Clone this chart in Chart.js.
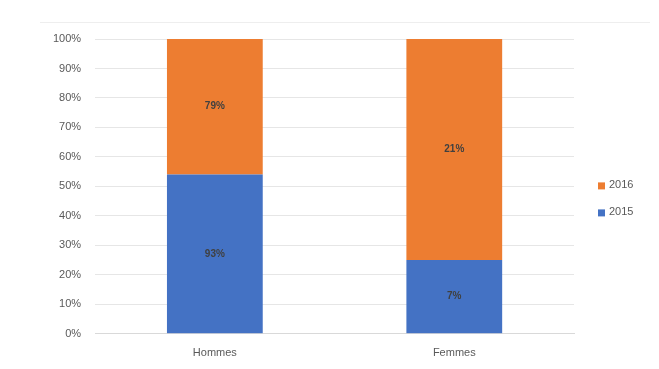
<!DOCTYPE html>
<html>
<head>
<meta charset="utf-8">
<script src="https://cdn.jsdelivr.net/npm/chart.js@4/dist/chart.umd.min.js"></script>
<style>
html,body{margin:0;padding:0;background:#fff;}
#wrap{width:659px;height:369px;position:relative;}
</style>
</head>
<body>
<div id="wrap"><canvas id="c" width="659" height="369"></canvas></div>
<script>
const categories = ["Hommes", "Femmes"];
const series2015 = [93, 7];
const series2016 = [79, 21];
const yTicks = [0, 10, 20, 30, 40, 50, 60, 70, 80, 90, 100];

const totals = categories.map((_, i) => series2015[i] + series2016[i]);
const pct = (arr) => arr.map((v, i) => v / totals[i] * 100);
const FONT = '"Liberation Sans", Arial, sans-serif';

const labelPlugin = {
  id: 'segLabels',
  afterDatasetsDraw(chart) {
    const ctx = chart.ctx;
    ctx.save();
    ctx.font = 'bold 10px ' + FONT;
    ctx.fillStyle = '#404040';
    ctx.textAlign = 'center';
    ctx.textBaseline = 'middle';
    chart.data.datasets.forEach((ds, di) => {
      const meta = chart.getDatasetMeta(di);
      meta.data.forEach((bar, i) => {
        const y = (bar.y + bar.base) / 2;
        ctx.fillText(ds.raw[i] + '%', bar.x, y);
      });
    });
    ctx.restore();
  }
};

const legendPlugin = {
  id: 'sideLegend',
  beforeDraw(chart) {
    const ctx = chart.ctx;
    ctx.save();
    ctx.strokeStyle = '#eeeeee';
    ctx.lineWidth = 1;
    ctx.beginPath();
    ctx.moveTo(40, 22.5);
    ctx.lineTo(650, 22.5);
    ctx.stroke();
    ctx.restore();
  },
  afterDraw(chart) {
    const ctx = chart.ctx;
    const area = chart.chartArea;
    const items = chart.data.datasets.map(ds => ({ text: ds.label, color: ds.backgroundColor })).reverse();
    const x = area.right + 24;
    const spacing = 27;
    const y0 = (area.top + area.bottom) / 2 - 1;
    ctx.save();
    ctx.font = '11px ' + FONT;
    ctx.textBaseline = 'middle';
    ctx.textAlign = 'left';
    items.forEach((it, k) => {
      const y = y0 + k * spacing;
      ctx.fillStyle = it.color;
      ctx.fillRect(x, y - 3, 7, 7);
      ctx.fillStyle = '#595959';
      ctx.fillText(it.text, x + 11, y);
    });
    ctx.restore();
  }
};

new Chart(document.getElementById('c'), {
  type: 'bar',
  data: {
    labels: categories,
    datasets: [
      { label: '2015', data: pct(series2015), raw: series2015, backgroundColor: '#4472C4' },
      { label: '2016', data: pct(series2016), raw: series2016, backgroundColor: '#ED7D31' }
    ]
  },
  options: {
    responsive: false,
    animation: false,
    devicePixelRatio: 1,
    layout: { padding: { left: 39, right: 85, top: 39, bottom: 4 } },
    datasets: { bar: { categoryPercentage: 0.4, barPercentage: 1.0 } },
    plugins: {
      legend: { display: false },
      tooltip: { enabled: false }
    },
    scales: {
      x: {
        stacked: true,
        grid: { display: false },
        border: { display: true, color: '#d9d9d9' },
        ticks: { color: '#595959', font: { size: 11, family: FONT }, padding: 5 }
      },
      y: {
        stacked: true,
        min: 0, max: 100,
        afterBuildTicks: (axis) => { axis.ticks = yTicks.map(v => ({ value: v })); },
        grid: { color: '#e6e6e6', drawTicks: false },
        border: { display: false },
        ticks: {
          color: '#595959',
          font: { size: 11, family: FONT },
          padding: 14,
          callback: (v) => v + '%'
        }
      }
    }
  },
  plugins: [labelPlugin, legendPlugin]
});
</script>
</body>
</html>
